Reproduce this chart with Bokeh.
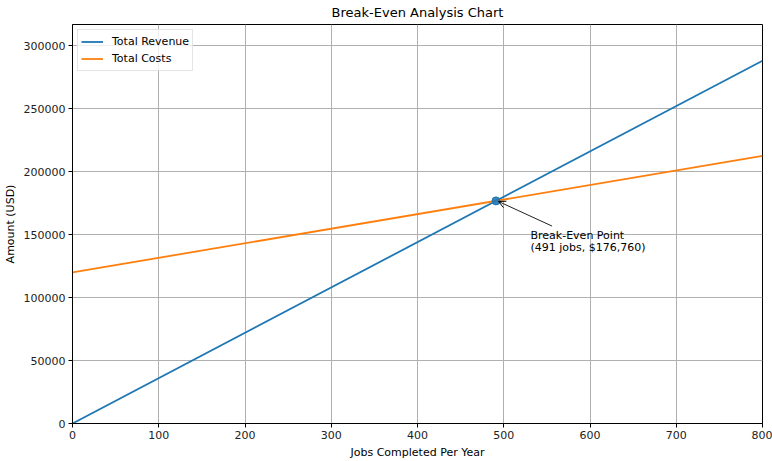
from bokeh.plotting import figure
from bokeh.models import (ColumnDataSource, Arrow, OpenHead, Legend, LegendItem,
                          FixedTicker, Range1d, BasicTickFormatter)
from bokeh.embed import file_html
from bokeh.resources import INLINE
from bokeh.core.properties import value

# ---- data ----
jobs = [0, 800]
total_revenue = [0, 288000]
total_costs = [120000, 212480]
break_even_jobs = 491
break_even_amount = 176760
annotation_lines = ["Break-Even Point", "(491 jobs, $176,760)"]
x_ticks = [0, 100, 200, 300, 400, 500, 600, 700, 800]
y_ticks = [0, 50000, 100000, 150000, 200000, 250000, 300000]

BLUE = "#1f77b4"
ORANGE = "#ff7f0e"
FONT = "DejaVu Sans"

p = figure(width=772, height=461, output_backend="svg", toolbar_location=None,
           title="Break-Even Analysis Chart",
           x_range=Range1d(0, 800), y_range=Range1d(0, max(total_revenue) * 1.1),
           min_border_left=70, min_border_right=10, min_border_top=24,
           min_border_bottom=38)

p.title.align = "center"
p.title.vertical_align = "middle"
p.title.text_font = FONT
p.title.text_font_size = "13px"
p.title.text_font_style = "normal"
p.title.text_color = "black"
p.title.standoff = 7
p.title.offset = 0

for ax in (p.xaxis[0], p.yaxis[0]):
    ax.axis_label_text_font = FONT
    ax.axis_label_text_font_size = "11px"
    ax.axis_label_text_font_style = "normal"
    ax.axis_label_text_color = "black"
    ax.major_label_text_font = FONT
    ax.major_label_text_font_size = "11px"
    ax.major_label_text_color = "#222222"
    ax.major_tick_in = 0
    ax.major_tick_out = 4
    ax.minor_tick_line_color = None
    ax.axis_line_color = "black"
    ax.major_tick_line_color = "black"
    ax.major_label_standoff = 3
    ax.axis_label_standoff = 4

p.xaxis.axis_label = "Jobs Completed Per Year"
p.yaxis.axis_label = "Amount (USD)"
p.xaxis.ticker = FixedTicker(ticks=x_ticks)
p.yaxis.ticker = FixedTicker(ticks=y_ticks)
p.yaxis.formatter = BasicTickFormatter(use_scientific=False)

p.xgrid.ticker = FixedTicker(ticks=x_ticks)
p.ygrid.ticker = FixedTicker(ticks=y_ticks)
p.grid.grid_line_color = "#b0b0b0"
p.grid.grid_line_width = 1
p.outline_line_color = "black"
p.outline_line_width = 1

src = ColumnDataSource(dict(x=jobs, rev=total_revenue, cost=total_costs))
r1 = p.line("x", "rev", source=src, line_color=BLUE, line_width=1.8)
r2 = p.line("x", "cost", source=src, line_color=ORANGE, line_width=1.8)

p.scatter([break_even_jobs], [break_even_amount], size=8, marker="circle",
          fill_color=BLUE, line_color=BLUE, fill_alpha=0.9)

# annotation text
tx = break_even_jobs + 40
ty = break_even_amount - 40000
tsrc = ColumnDataSource(dict(x=[tx, tx], y=[ty, ty], t=annotation_lines,
                             yo=[-16, -4]))
p.text("x", "y", text="t", y_offset="yo", source=tsrc,
       text_font=value(FONT), text_font_size="11px", text_color="black",
       text_baseline="alphabetic", text_align="left")

p.add_layout(Arrow(end=OpenHead(size=7, line_color="black", line_width=1),
                   x_start=tx + 25, y_start=break_even_amount - 20000,
                   x_end=break_even_jobs + 3, y_end=break_even_amount - 500,
                   line_color="#222222", line_width=1))

legend = Legend(items=[LegendItem(label="Total Revenue", renderers=[r1]),
                       LegendItem(label="Total Costs", renderers=[r2])],
                location="top_left")
legend.label_text_font = FONT
legend.label_text_font_size = "11px"
legend.label_text_color = "black"
legend.border_line_color = "#cccccc"
legend.border_line_width = 1
legend.background_fill_alpha = 0.8
legend.margin = 5
legend.padding = 3
legend.spacing = 0
legend.glyph_width = 22
legend.glyph_height = 17
legend.label_height = 17
legend.label_standoff = 9
p.add_layout(legend)

open("out.html", "w").write(file_html(p, INLINE))
